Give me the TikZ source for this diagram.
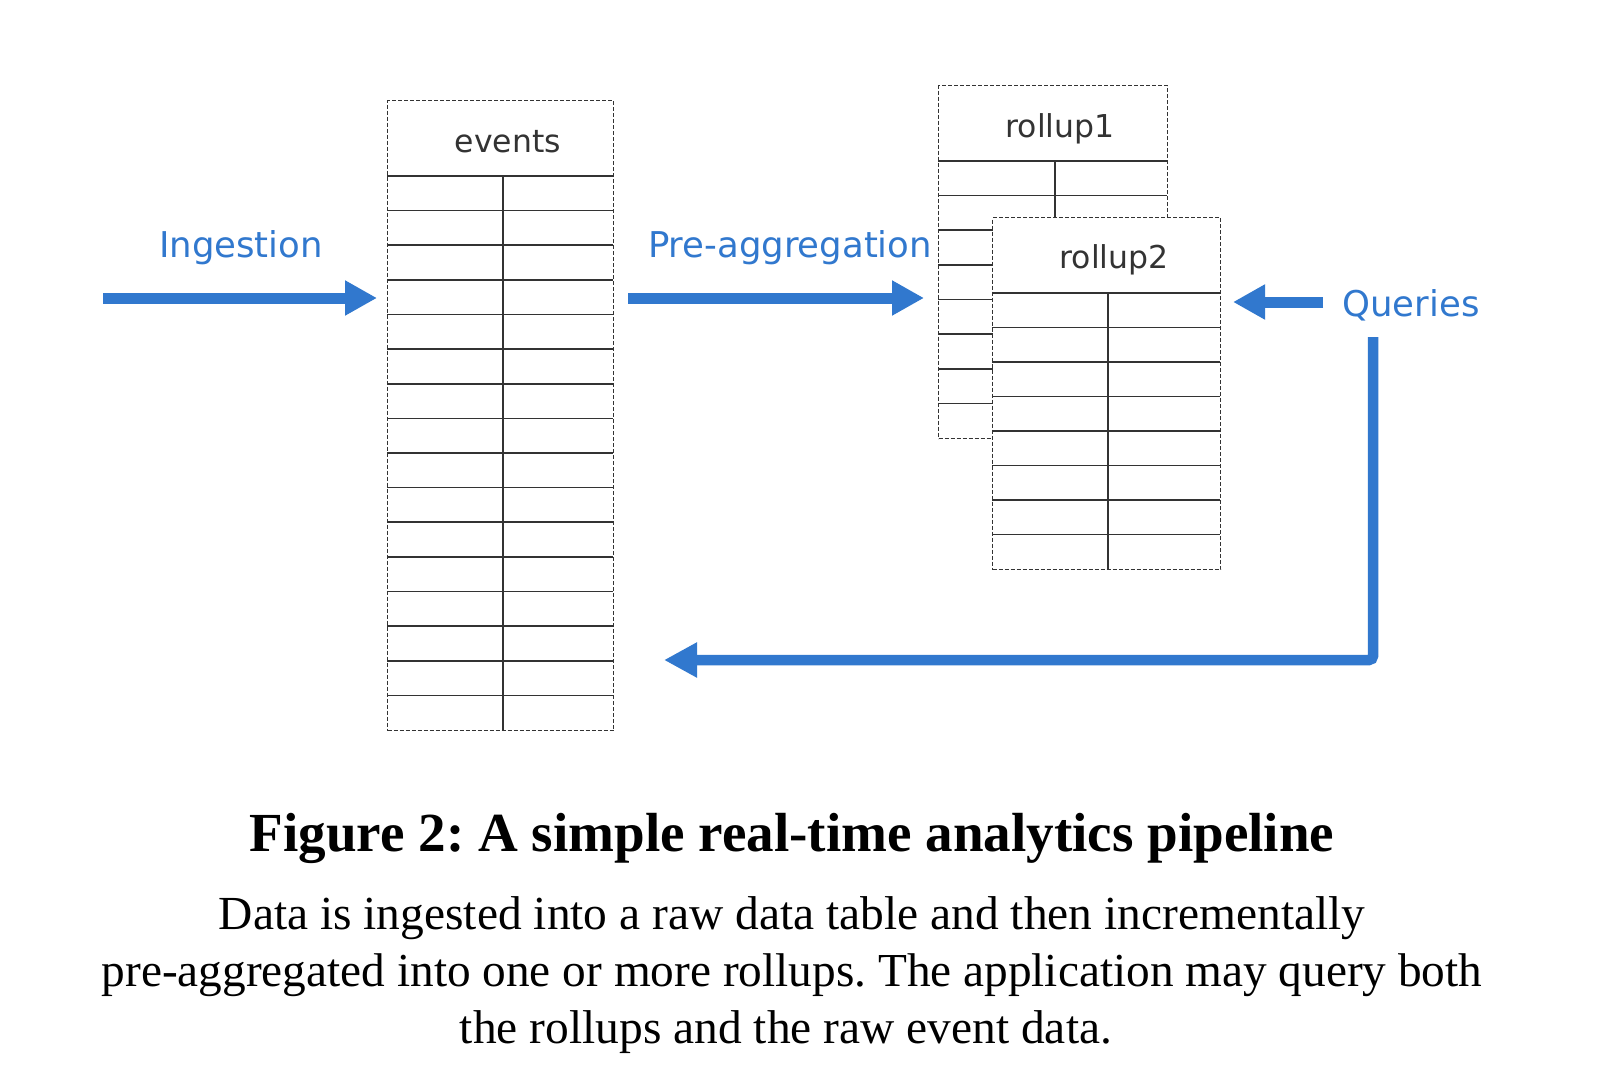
\documentclass[tikz,border=0pt]{standalone}
\usepackage{fontspec}
\setmainfont{Liberation Serif}
\newfontfamily\dvsans{DejaVu Sans}
\usetikzlibrary{arrows.meta}
\definecolor{flowblue}{RGB}{49,120,206}
\definecolor{tabgray}{RGB}{51,51,51}
\frenchspacing
\begin{document}
\begin{tikzpicture}[x=1pt,y=-1pt,
  tabframe/.style={draw=tabgray, line width=1.2pt, dash pattern=on 4pt off 2pt, fill=white, inner sep=0pt, anchor=north west},
  tabline/.style={draw=tabgray, line width=1.7pt},
  tabtitle/.style={font=\dvsans\fontsize{31.5}{36}\selectfont, text=tabgray, anchor=base, inner sep=0pt},
  flowlabel/.style={font=\dvsans\fontsize{35.5}{40}\selectfont, text=flowblue, anchor=base, inner sep=0pt},
  flow/.style={draw=flowblue, line width=11pt, -{Triangle[length=32pt,width=33pt]}},
  captext/.style={anchor=base, inner sep=0pt},
]
\useasboundingbox (0,0) rectangle (1600,1078);
\fill[white] (0,0) rectangle (1600,1078);

% events table
\node[tabframe, minimum width=226pt, minimum height=630pt] (events) at (387,100) {};
\draw[tabline] (387,176) -- (613,176);
\foreach \i in {1,...,15} \draw[tabline] (387,{176+\i*34.625}) -- (613,{176+\i*34.625});
\draw[tabline] (503,176) -- (503,730);
\node[tabtitle] (eventsT) at (508,153) {events};

% rollup1
\node[tabframe, minimum width=229pt, minimum height=353pt] (rollA) at (938,85) {};
\draw[tabline] (938,161) -- (1167,161);
\foreach \i in {1,...,7} \draw[tabline] (938,{161+\i*34.625}) -- (1167,{161+\i*34.625});
\draw[tabline] (1055,161) -- (1055,438);
\node[tabtitle] (rollAT) at (1060,138) {rollup1};

% rollup2
\node[tabframe, minimum width=228pt, minimum height=352pt] (rollB) at (992,217) {};
\draw[tabline] (992,293) -- (1220,293);
\foreach \i in {1,...,7} \draw[tabline] (992,{293+\i*34.5}) -- (1220,{293+\i*34.5});
\draw[tabline] (1108,293) -- (1108,569);
\node[tabtitle] (rollBT) at (1114,268) {rollup2};

% labels
\node[flowlabel] (ing) at (241,257) {Ingestion};
\node[flowlabel] (pre) at (790,257) {Pre-aggregation};
\node[flowlabel] (qry) at (1411,316) {Queries};

% connectors
\coordinate (ingS) at (103,298);
\coordinate (ingE) at (377,298);
\coordinate (preS) at (628,298);
\coordinate (preE) at (924,298);
\coordinate (qS) at (1323,302);
\coordinate (qE) at (1233,302);
\coordinate (rS) at (1373,337);
\coordinate (rE) at (664,660);
\draw[flow] (ingS) -- (ingE);
\draw[flow] (preS) -- (preE);
\draw[flow] (qS) -- (qE);
\draw[draw=flowblue, line width=10.5pt, rounded corners=4pt, -{Triangle[length=33pt,width=33pt]}] (rS) |- (rE);

% caption
\node[captext] (title) at (792,851) {\resizebox{1084pt}{!}{\bfseries Figure 2: A simple real-time analytics pipeline}};
\node[captext] (cap1) at (792,929) {\resizebox{1146pt}{!}{Data is ingested into a raw data table and then incrementally}};
\node[captext] (cap2) at (792,986) {\resizebox{1380pt}{!}{pre-aggregated into one or more rollups. The application may query both}};
\node[captext] (cap3) at (786,1043) {\resizebox{652pt}{!}{the rollups and the raw event data.}};
\end{tikzpicture}
\end{document}
